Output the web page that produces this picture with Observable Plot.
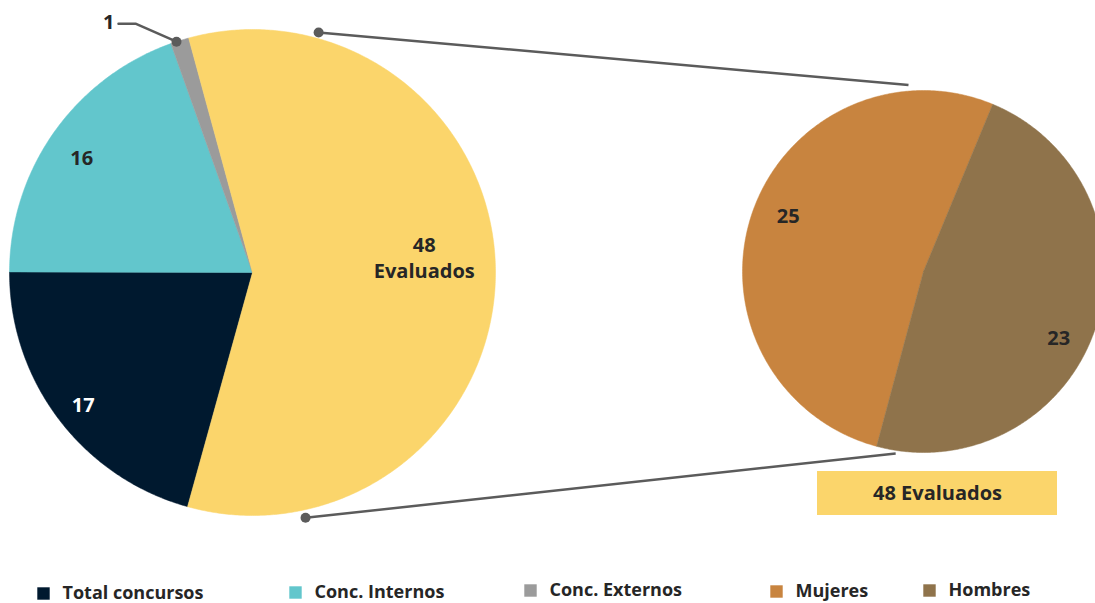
<!DOCTYPE html>
<html>
<head>
<meta charset="utf-8">
<script src="https://cdn.jsdelivr.net/npm/d3@7"></script>
<script src="https://cdn.jsdelivr.net/npm/@observablehq/plot@0.6"></script>
<style>
  html, body { margin: 0; padding: 0; background: #fff; }
  #chart svg { display: block; }
</style>
</head>
<body>
<div id="chart"></div>
<script>
// ---- data ----
const categories = ["Total concursos", "Conc. Internos", "Conc. Externos", "Evaluados"];
const values = [17, 16, 1, 48];
const colors = ["#00192F", "#62C6CC", "#9B9B9B", "#FBD56B"];
const subCategories = ["Mujeres", "Hombres"];
const subValues = [25, 23];
const subColors = ["#C8843F", "#8F734B"];
const legendLabels = ["Total concursos", "Conc. Internos", "Conc. Externos", "Mujeres", "Hombres"];
const legendColors = ["#00192F", "#62C6CC", "#9B9B9B", "#C8843F", "#8F734B"];
const boxLabel = "48 Evaluados";

// ---- layout ----
const W = 1095, H = 603;
const main = {cx: 252, cy: 272, r: 243, start: 195.5};
const sub = {cx: 923, cy: 271, r: 181, start: 195};
const font = "'Open Sans', Lato, sans-serif";
const textColor = "#262626";

const rad = d => d * Math.PI / 180;
const pt = (c, ang, r) => ({x: c.cx + r * Math.sin(rad(ang)), y: c.cy - r * Math.cos(rad(ang))});

function slices(c, vals) {
  const total = d3.sum(vals);
  let a = c.start;
  return vals.map((v, i) => {
    const a0 = a, a1 = a + v / total * 360;
    a = a1;
    const pts = [{x: c.cx, y: c.cy}];
    const n = Math.max(4, Math.ceil((a1 - a0) / 0.5));
    for (let k = 0; k <= n; k++) pts.push(pt(c, a0 + (a1 - a0) * k / n, c.r));
    pts.push({x: c.cx, y: c.cy});
    return {i, v, a0, a1, mid: (a0 + a1) / 2, pts};
  });
}

const mainSlices = slices(main, values);
const subSlices = slices(sub, subValues);

// label placement (radius fraction, angle shift)
const mainLabelPos = [{f: 0.88, da: -0.5}, {f: 0.85, da: -1}, null, {f: 0.71, da: -5.5}];
const subLabelPos = [{f: 0.81, da: 4}, {f: 0.83, da: 7}];

const labels = [];
mainSlices.forEach((s, i) => {
  const p = mainLabelPos[i];
  if (!p) return;
  const q = pt(main, s.mid + p.da, main.r * p.f);
  labels.push({x: q.x, y: q.y, text: i === 3 ? `${values[i]}\n${categories[i]}` : String(values[i]),
               fill: i === 0 ? "#ffffff" : textColor});
});
subSlices.forEach((s, i) => {
  const p = subLabelPos[i];
  const q = pt(sub, s.mid + p.da, sub.r * p.f);
  labels.push({x: q.x, y: q.y, text: String(subValues[i]), fill: textColor});
});

// leader for small slice "1"
const g = mainSlices[2];
const gp = pt(main, g.mid - 0.8, main.r);
const leader = [gp, {x: gp.x - 41, y: gp.y - 18}, {x: gp.x - 58, y: gp.y - 18}];
const leaderLabel = [{x: gp.x - 62, y: gp.y - 19, text: String(values[2])}];

// connector lines between pies
const conn = [
  {p1: pt(main, 15.4, main.r + 6), p2: pt(sub, 355.4, sub.r + 6)},
  {p1: pt(main, 167.8, main.r + 8), p2: pt(sub, 188.7, sub.r + 3)}
];

// box
const box = [{x1: 817, x2: 1057, y1: 471, y2: 515, text: boxLabel}];

// legend
const legendX = [37, 289, 524, 770, 923];
const legendY = [593, 592, 590, 591, 590];
const legend = legendLabels.map((l, i) => ({x: legendX[i], y: legendY[i], label: l, color: legendColors[i]}));

const marks = [];
mainSlices.forEach(s => marks.push(Plot.line(s.pts, {x: "x", y: "y", fill: colors[s.i], stroke: colors[s.i], strokeWidth: 0.5})));
subSlices.forEach(s => marks.push(Plot.line(s.pts, {x: "x", y: "y", fill: subColors[s.i], stroke: subColors[s.i], strokeWidth: 0.5})));
marks.push(
  Plot.link(conn, {x1: d => d.p1.x, y1: d => d.p1.y, x2: d => d.p2.x, y2: d => d.p2.y, stroke: "#5B5B5B", strokeWidth: 2.5}),
  Plot.dot(conn, {x: d => d.p1.x, y: d => d.p1.y, r: 5, fill: "#5B5B5B", stroke: "none"}),
  Plot.line(leader, {x: "x", y: "y", stroke: "#5B5B5B", strokeWidth: 2.5}),
  Plot.dot([gp], {x: "x", y: "y", r: 5, fill: "#5B5B5B", stroke: "none"}),
  Plot.text(leaderLabel, {x: "x", y: "y", text: "text", textAnchor: "end", fill: textColor, fontSize: 20, fontWeight: 700, fontFamily: font}),
  Plot.text(labels, {x: "x", y: "y", text: "text", fill: "fill", fontSize: 20, fontWeight: 700, fontFamily: font, lineHeight: 1.35}),
  Plot.rect(box, {x1: "x1", x2: "x2", y1: "y1", y2: "y2", fill: "#FBD56B"}),
  Plot.text(box, {x: d => (d.x1 + d.x2) / 2, y: d => (d.y1 + d.y2) / 2, text: "text", fill: textColor, fontSize: 20, fontWeight: 700, fontFamily: font}),
  Plot.dot(legend, {x: d => d.x + 6, y: "y", symbol: "square", r: 7, fill: "color", stroke: "none"}),
  Plot.text(legend, {x: d => d.x + 25, y: "y", text: "label", textAnchor: "start", fill: textColor, fontSize: 18, fontWeight: 700, fontFamily: font})
);

const chart = Plot.plot({
  width: W, height: H, margin: 0,
  x: {type: "identity", axis: null},
  y: {type: "identity", axis: null},
  style: {background: "#fff", overflow: "hidden"},
  marks
});
document.getElementById("chart").appendChild(chart);
</script>
</body>
</html>
